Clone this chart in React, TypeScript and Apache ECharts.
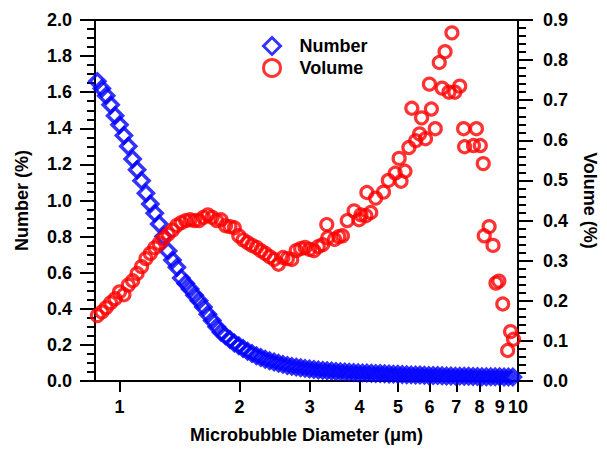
import React, { useEffect, useRef } from 'react';
import * as echarts from 'echarts';

const numberDiameters = [
  0.880, 0.903, 0.926, 0.950, 0.975, 1.000, 1.026, 1.052, 1.079, 1.107,
  1.136, 1.165, 1.195, 1.226, 1.258, 1.290, 1.324, 1.358, 1.393, 1.429,
  1.466, 1.504, 1.543, 1.583, 1.624, 1.666, 1.709, 1.753, 1.798, 1.845,
  1.893, 1.941, 1.992, 2.043, 2.096, 2.150, 2.206, 2.263, 2.321, 2.381,
  2.443, 2.506, 2.571, 2.638, 2.706, 2.776, 2.848, 2.921, 2.997, 3.074,
  3.154, 3.235, 3.319, 3.405, 3.493, 3.583, 3.676, 3.771, 3.869, 3.969,
  4.072, 4.177, 4.285, 4.396, 4.510, 4.627, 4.746, 4.869, 4.995, 5.124,
  5.257, 5.393, 5.533, 5.676, 5.823, 5.974, 6.128, 6.287, 6.450, 6.617,
  6.788, 6.964, 7.144, 7.329, 7.519, 7.713, 7.913, 8.118, 8.328, 8.544,
  8.765, 8.992, 9.225, 9.463, 9.708,
];
const numberValues = [
  1.66, 1.62, 1.58, 1.53, 1.47, 1.42, 1.36, 1.30, 1.23, 1.17,
  1.11, 1.04, 0.98, 0.93, 0.87, 0.80, 0.72, 0.67, 0.63, 0.57,
  0.54, 0.51, 0.475, 0.445, 0.41, 0.37, 0.335, 0.30, 0.27, 0.25,
  0.23, 0.21, 0.195, 0.18, 0.165, 0.152, 0.14, 0.13, 0.12, 0.112,
  0.105, 0.098, 0.092, 0.086, 0.081, 0.077, 0.073, 0.070, 0.067, 0.064,
  0.061, 0.059, 0.057, 0.055, 0.053, 0.052, 0.050, 0.049, 0.047, 0.046,
  0.045, 0.044, 0.043, 0.042, 0.041, 0.040, 0.039, 0.038, 0.037, 0.036,
  0.035, 0.034, 0.033, 0.033, 0.032, 0.031, 0.030, 0.030, 0.029, 0.028,
  0.028, 0.027, 0.027, 0.026, 0.026, 0.025, 0.025, 0.024, 0.024, 0.023,
  0.023, 0.023, 0.022, 0.022, 0.022,
];

const volumeDiameters = [
  0.880, 0.903, 0.926, 0.950, 0.975, 1.000, 1.026, 1.052, 1.079, 1.107,
  1.136, 1.165, 1.195, 1.226, 1.258, 1.290, 1.324, 1.358, 1.393, 1.429,
  1.466, 1.504, 1.543, 1.583, 1.624, 1.666, 1.709, 1.753, 1.798, 1.845,
  1.893, 1.941, 1.992, 2.043, 2.096, 2.150, 2.206, 2.263, 2.321, 2.381,
  2.443, 2.506, 2.571, 2.638, 2.706, 2.776, 2.848, 2.921, 2.997, 3.074,
  3.154, 3.235, 3.312, 3.331, 3.465, 3.550, 3.626, 3.729, 3.879, 3.991,
  4.036, 4.152, 4.176, 4.271, 4.393, 4.597, 4.728, 4.919, 5.031, 5.088,
  5.204, 5.323, 5.414, 5.538, 5.664, 5.729, 5.860, 5.994, 6.062, 6.200,
  6.344, 6.451, 6.561, 6.711, 6.826, 6.942, 7.141, 7.304, 7.345, 7.731,
  7.864, 8.043, 8.181, 8.227, 8.463, 8.656, 8.804, 8.953, 9.157, 9.419,
  9.581, 9.743,
];
const volumeValues = [
  0.163, 0.172, 0.183, 0.195, 0.205, 0.222, 0.215, 0.239, 0.250, 0.268,
  0.285, 0.305, 0.318, 0.332, 0.343, 0.355, 0.366, 0.376, 0.388, 0.395,
  0.400, 0.402, 0.400, 0.400, 0.408, 0.414, 0.408, 0.400, 0.402, 0.387,
  0.385, 0.382, 0.362, 0.352, 0.345, 0.338, 0.333, 0.325, 0.318, 0.310,
  0.303, 0.291, 0.308, 0.305, 0.303, 0.325, 0.330, 0.333, 0.328, 0.325,
  0.335, 0.340, 0.390, 0.357, 0.353, 0.360, 0.362, 0.400, 0.424, 0.402,
  0.414, 0.412, 0.470, 0.420, 0.456, 0.471, 0.500, 0.518, 0.555, 0.498,
  0.523, 0.582, 0.680, 0.599, 0.616, 0.656, 0.604, 0.740, 0.678, 0.629,
  0.794, 0.730, 0.821, 0.720, 0.868, 0.720, 0.735, 0.629, 0.584, 0.587,
  0.629, 0.587, 0.542, 0.362, 0.385, 0.338, 0.244, 0.249, 0.192, 0.076,
  0.123, 0.104,
];

const xTickValues = [1, 2, 3, 4, 5, 6, 7, 8, 9, 10];
const xMin = 0.868;
const xMax = 10;
const numberAxis = { min: 0, max: 2, interval: 0.2 };
const volumeAxis = { min: 0, max: 0.9, interval: 0.1 };

const FONT = "'Liberation Sans', Arial, sans-serif";

export default function App() {
  const ref = useRef<HTMLDivElement>(null);
  useEffect(() => {
    if (!ref.current) return;
    const chart = echarts.init(ref.current, null, { renderer: 'svg' });
    const lg = (v: number) => Math.log10(v);
    const xTicks = xTickValues.map(lg);
    const black = '#000';
    const textBase = { fontFamily: FONT, fontWeight: 'bold' as const, fontSize: 18, color: black };
    const lineStyle = { color: black, width: 2 };

    chart.setOption({
      animation: false,
      grid: { left: 95, top: 20, width: 433, height: 365, containLabel: false },
      legend: {
        orient: 'vertical',
        left: 257,
        top: 31,
        itemWidth: 17,
        itemHeight: 17,
        itemGap: 2,
        textStyle: { ...textBase, padding: [0, 0, 0, 14] },
        itemStyle: { borderWidth: 3 },
        data: ['Number', 'Volume'],
      },
      xAxis: [
        {
          type: 'value',
          min: lg(xMin),
          max: lg(xMax),
          position: 'bottom',
          axisLine: { show: true, onZero: false, lineStyle },
          axisTick: { show: true, customValues: xTicks, length: 11, inside: false, lineStyle },
          axisLabel: {
            customValues: xTicks,
            formatter: (v: number) => String(Math.round(Math.pow(10, v))),
            margin: 17,
            ...textBase,
          },
          splitLine: { show: false },
          name: 'Microbubble Diameter (\u03bcm)',
          nameLocation: 'middle',
          nameGap: 45,
          nameTextStyle: { ...textBase },
        },
        {
          type: 'value',
          min: lg(xMin),
          max: lg(xMax),
          position: 'top',
          axisLine: { show: true, onZero: false, lineStyle },
          axisTick: { show: false },
          axisLabel: { show: false },
          splitLine: { show: false },
        },
      ],
      yAxis: [
        {
          type: 'value',
          position: 'left',
          ...numberAxis,
          axisLine: { show: true, onZero: false, lineStyle },
          axisTick: { show: true, length: 15, lineStyle },
          minorTick: { show: true, splitNumber: 4, length: 8, lineStyle },
          axisLabel: { margin: 23, formatter: (v: number) => v.toFixed(1), ...textBase },
          splitLine: { show: false },
          name: 'Number (%)',
          nameLocation: 'middle',
          nameGap: 64,
          nameRotate: 90,
          nameTextStyle: { ...textBase },
        },
        {
          type: 'value',
          position: 'right',
          ...volumeAxis,
          axisLine: { show: true, onZero: false, lineStyle },
          axisTick: { show: true, length: 15, lineStyle },
          minorTick: { show: true, splitNumber: 5, length: 8, lineStyle },
          axisLabel: { margin: 25, formatter: (v: number) => v.toFixed(1), ...textBase },
          splitLine: { show: false },
          name: 'Volume (%)',
          nameLocation: 'middle',
          nameGap: 63,
          nameRotate: -90,
          nameTextStyle: { ...textBase },
        },
      ],
      series: [
        {
          name: 'Number',
          type: 'scatter',
          xAxisIndex: 0,
          yAxisIndex: 0,
          symbol: 'diamond',
          symbolSize: 15,
          itemStyle: { color: 'rgba(255,255,255,0)', borderColor: '#0000ff', borderWidth: 3.5 },
          data: numberDiameters.map((d, i) => [lg(d), numberValues[i]]),
        },
        {
          name: 'Volume',
          type: 'scatter',
          xAxisIndex: 0,
          yAxisIndex: 1,
          symbol: 'circle',
          symbolSize: 12,
          itemStyle: { color: 'rgba(255,255,255,0)', borderColor: '#ff0000', borderWidth: 3.2 },
          data: volumeDiameters.map((d, i) => [lg(d), volumeValues[i]]),
        },
      ],
    });
    return () => chart.dispose();
  }, []);
  return (
    <div
      ref={ref}
      style={{ position: 'fixed', left: 0, top: 0, width: 607, height: 449, background: '#fff' }}
    />
  );
}
